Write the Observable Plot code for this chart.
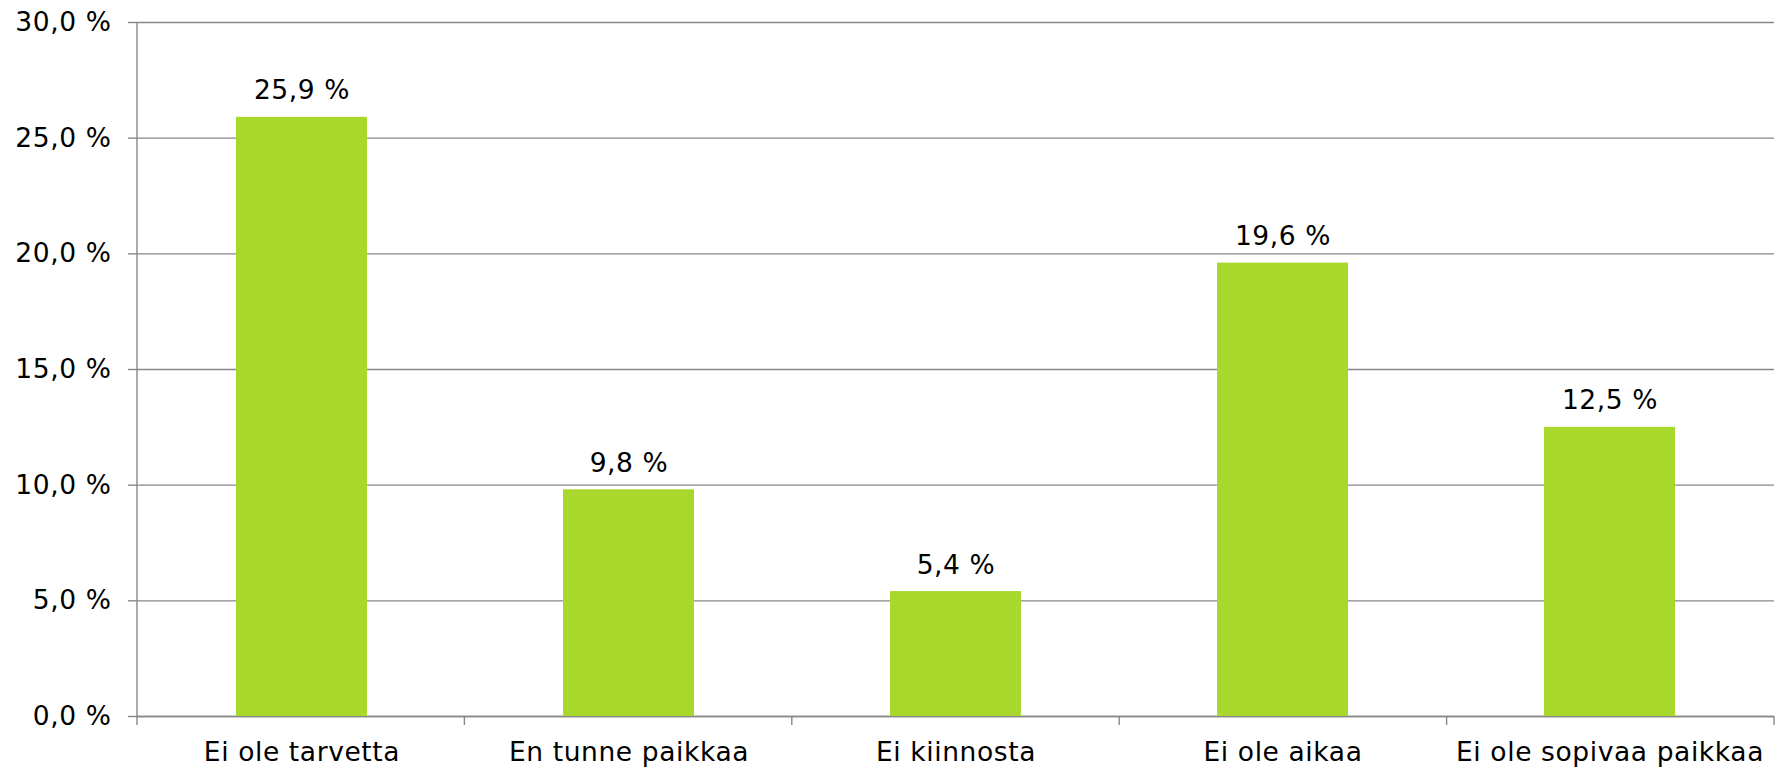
<!DOCTYPE html>
<html>
<head>
<meta charset="utf-8">
<script src="https://cdn.jsdelivr.net/npm/d3@7"></script>
<script src="https://cdn.jsdelivr.net/npm/@observablehq/plot@0.6"></script>
<style>
  html, body { margin: 0; padding: 0; background: #fff; }
  #chart svg { display: block; }
  #chart svg text { letter-spacing: 0.6px; }
</style>
</head>
<body>
<div id="chart"></div>
<script>
const categories = ["Ei ole tarvetta", "En tunne paikkaa", "Ei kiinnosta", "Ei ole aikaa", "Ei ole sopivaa paikkaa"];
const values = [25.9, 9.8, 5.4, 19.6, 12.5];
const yTicks = [0, 5, 10, 15, 20, 25, 30];

const data = categories.map((c, i) => ({category: c, value: values[i]}));
const fmt = v => v.toFixed(1).replace(".", ",") + " %";
const lineColor = "#878787";
const barColor = "#a8d82c";

// axis lines and category boundary ticks, drawn from the frame dimensions
function axisFrame(index, scales, values, dims) {
  const g = d3.create("svg:g").attr("stroke", lineColor).attr("stroke-width", 1.4);
  const x0 = dims.marginLeft, x1 = dims.width - dims.marginRight;
  const y0 = dims.marginTop, y1 = dims.height - dims.marginBottom;
  g.append("line").attr("x1", x0).attr("x2", x0).attr("y1", y0).attr("y2", y1 + 9);
  const n = categories.length;
  for (let i = 1; i <= n; i++) {
    const x = x0 + (x1 - x0) * i / n;
    g.append("line").attr("x1", x).attr("x2", x).attr("y1", y1).attr("y2", y1 + 9);
  }
  return g.node();
}

const chart = Plot.plot({
  width: 1780,
  height: 768,
  marginLeft: 137,
  marginRight: 6,
  marginTop: 22,
  marginBottom: 52,
  style: {fontFamily: "'DejaVu Sans', Verdana, sans-serif", fontSize: "26.5px", color: "#000", background: "#fff"},
  x: {domain: categories, paddingInner: 0.6, paddingOuter: 0.3, label: null},
  y: {domain: [0, 30], label: null},
  marks: [
    Plot.gridY(yTicks, {stroke: lineColor, strokeOpacity: 1, strokeWidth: 1.4}),
    Plot.ruleY([0], {stroke: lineColor, strokeWidth: 1.4}),
    Plot.barY(data, {x: "category", y: "value", fill: barColor}),
    Plot.text(data, {x: "category", y: "value", text: d => fmt(d.value), lineAnchor: "bottom", dy: -18, fill: "#000", fontSize: 26.5}),
    Plot.axisY(yTicks, {tickSize: 9, tickPadding: 17, tickFormat: fmt, stroke: lineColor, strokeWidth: 1.4, fontSize: 26.5, fill: "#000"}),
    Plot.axisX({tickSize: 0, tickPadding: 26, fontSize: 26.5, fill: "#000"}),
    axisFrame
  ]
});
document.getElementById("chart").appendChild(chart);
</script>
</body>
</html>
